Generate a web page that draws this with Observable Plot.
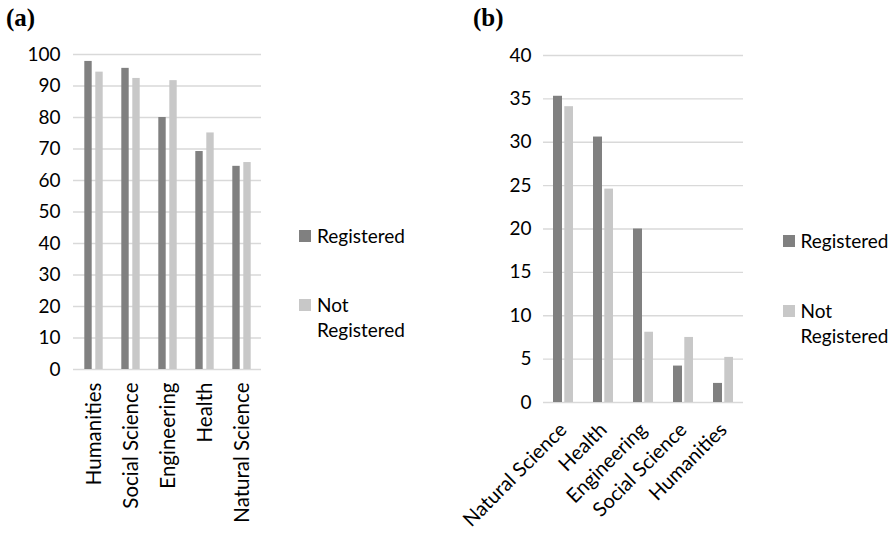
<!DOCTYPE html>
<html>
<head>
<meta charset="utf-8">
<script src="https://cdn.jsdelivr.net/npm/d3@7"></script>
<script src="https://cdn.jsdelivr.net/npm/@observablehq/plot@0.6"></script>
<style>
  html, body { margin: 0; padding: 0; background: #fff; }
  #wrap { position: relative; width: 896px; height: 533px; overflow: hidden; font-family: Lato, sans-serif; }
  #wrap > svg { position: absolute; left: 0; top: 0; }
  .ptitle { position: absolute; font-family: "Liberation Serif", serif; font-weight: bold; font-size: 25px; line-height: 30px; color: #000; }
  .leg { position: absolute; font-family: Lato, sans-serif; font-size: 19px; color: #000; line-height: 25px; }
  .sw { position: absolute; width: 12px; height: 12px; }
</style>
</head>
<body>
<div id="wrap"></div>
<script>
// ---- data ----
const series = ["Registered", "Not Registered"];
const colors = ["#808080", "#c8c8c8"];

const catsA = ["Humanities", "Social Science", "Engineering", "Health", "Natural Science"];
const regA = [97.8, 95.6, 80.0, 69.2, 64.5];
const notA = [94.4, 92.4, 91.7, 75.1, 65.7];
const ticksA = [0, 10, 20, 30, 40, 50, 60, 70, 80, 90, 100];

const catsB = ["Natural Science", "Health", "Engineering", "Social Science", "Humanities"];
const regB = [35.3, 30.6, 20.0, 4.2, 2.2];
const notB = [34.1, 24.6, 8.1, 7.5, 5.2];
const ticksB = [0, 5, 10, 15, 20, 25, 30, 35, 40];

const tableA = catsA.map((c, i) => ({cat: c, reg: regA[i], not: notA[i]}));
const tableB = catsB.map((c, i) => ({cat: c, reg: regB[i], not: notB[i]}));

const wrap = document.getElementById("wrap");
const baseStyle = {fontFamily: "Lato, sans-serif", fontSize: "19px", color: "#000", background: "transparent", overflow: "visible"};

const chartA = Plot.plot({
  width: 896, height: 533,
  marginLeft: 73, marginRight: 635, marginTop: 54, marginBottom: 164,
  style: baseStyle,
  x: {domain: catsA, padding: 0, label: null, tickSize: 0, tickRotate: -90, tickPadding: 13},
  y: {domain: [0, 100], ticks: ticksA, label: null, tickSize: 0, tickPadding: 13},
  marks: [
    Plot.ruleY(ticksA, {stroke: "#d9d9d9", strokeWidth: 1.4}),
    Plot.barY(tableA, {x: "cat", y: "reg", fill: colors[0], insetLeft: 9.3, insetRight: 20.3}),
    Plot.barY(tableA, {x: "cat", y: "not", fill: colors[1], insetLeft: 20.3, insetRight: 9.3})
  ]
});
chartA.querySelectorAll('[aria-label="x-axis tick label"] text').forEach(t => t.style.fontSize = "20.5px");
wrap.appendChild(chartA);

const chartB = Plot.plot({
  width: 896, height: 533,
  marginLeft: 543, marginRight: 153, marginTop: 55, marginBottom: 131,
  style: baseStyle,
  x: {domain: catsB, padding: 0, label: null, tickSize: 0, tickRotate: -45, tickPadding: 24},
  y: {domain: [0, 40], ticks: ticksB, label: null, tickSize: 0, tickPadding: 12},
  marks: [
    Plot.ruleY(ticksB, {stroke: "#d9d9d9", strokeWidth: 1.4}),
    Plot.barY(tableB, {x: "cat", y: "reg", fill: colors[0], insetLeft: 10, insetRight: 21}),
    Plot.barY(tableB, {x: "cat", y: "not", fill: colors[1], insetLeft: 21.3, insetRight: 10})
  ]
});
chartB.querySelectorAll('[aria-label="x-axis tick label"] text').forEach(t => t.style.fontSize = "20px");
wrap.appendChild(chartB);

// titles
function addDiv(cls, text, left, top) {
  const d = document.createElement("div");
  d.className = cls; d.textContent = text;
  d.style.left = left + "px"; d.style.top = top + "px";
  wrap.appendChild(d);
  return d;
}
addDiv("ptitle", "(a)", 6, 3);
addDiv("ptitle", "(b)", 473, 3);

// legends
function legend(x, y1, y2) {
  const sw1 = document.createElement("div"); sw1.className = "sw";
  sw1.style.left = x + "px"; sw1.style.top = y1 + "px"; sw1.style.background = colors[0];
  wrap.appendChild(sw1);
  addDiv("leg", series[0], x + 18, y1 - 7);
  const sw2 = document.createElement("div"); sw2.className = "sw";
  sw2.style.left = x + "px"; sw2.style.top = y2 + "px"; sw2.style.background = colors[1];
  wrap.appendChild(sw2);
  const d = addDiv("leg", "", x + 18, y2 - 7);
  d.innerHTML = "Not<br>Registered";
}
legend(299, 229.5, 298.5);
legend(782.5, 235, 304.5);
</script>
</body>
</html>
